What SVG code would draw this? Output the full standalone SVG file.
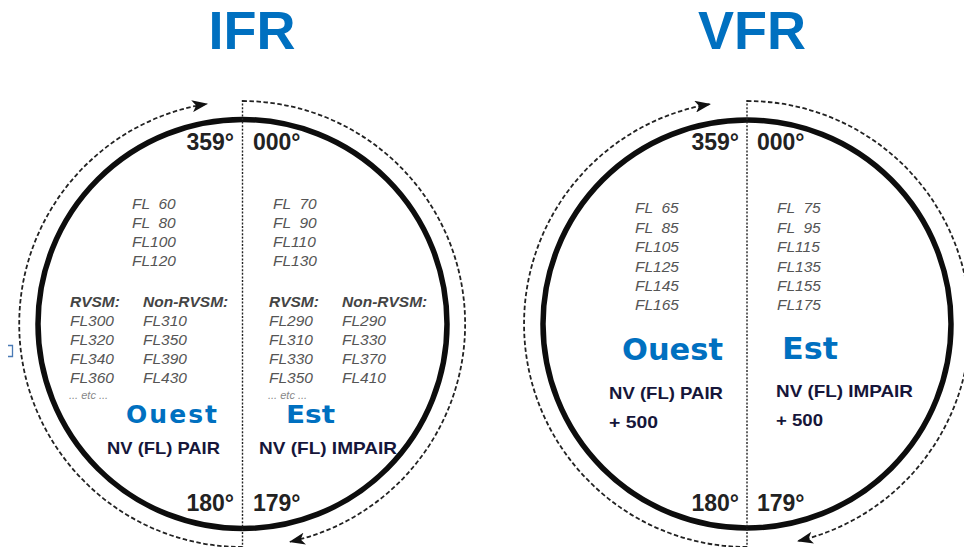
<svg xmlns="http://www.w3.org/2000/svg" width="964" height="547" viewBox="0 0 964 547">
<defs>
<marker id="arr" viewBox="0 0 16 12" refX="15" refY="6" markerWidth="16" markerHeight="12" markerUnits="userSpaceOnUse" orient="auto">
<path d="M0,0 L16,6 L0,12 L4,6 Z" fill="#111"/>
</marker>
</defs>
<style>
.ring{fill:none;stroke:#0d0d0d;stroke-width:5.5}
.orbit{fill:none;stroke:#222;stroke-width:1.8;stroke-dasharray:4.5 2.5}
.axis{fill:none;stroke:#222;stroke-width:1.4;stroke-dasharray:2 1.6}
.title{font-family:"Liberation Sans",Arial,sans-serif;font-weight:bold;font-size:54px;fill:#0070C0;text-anchor:middle}
.deg{font-family:"Liberation Sans",Arial,sans-serif;font-weight:bold;font-size:23px;fill:#222}
.fl{font-family:"Liberation Sans",Arial,sans-serif;font-style:italic;font-size:15.5px;fill:#555;white-space:pre}
.flh{font-family:"Liberation Sans",Arial,sans-serif;font-style:italic;font-weight:bold;font-size:15.5px;fill:#444}
.etc{font-family:"Liberation Sans",Arial,sans-serif;font-style:italic;font-size:11px;fill:#888}
.dir{font-family:"DejaVu Sans",Verdana,sans-serif;font-weight:bold;fill:#0070C0}
.nv{font-family:"Liberation Sans",Arial,sans-serif;font-weight:bold;font-size:17px;fill:#16163a}
</style>
<rect width="964" height="547" fill="#fff"/>

<g id="ifr">
<text class="title" x="252" y="49">IFR</text>
<circle class="ring" cx="242.5" cy="324" r="204.5"/>
<g id="ifr-degrees">
<text class="deg" x="234" y="150" text-anchor="end">359°</text>
<text class="deg" x="253" y="150">000°</text>
<text class="deg" x="234" y="511" text-anchor="end">180°</text>
<text class="deg" x="253" y="511">179°</text>
</g>
<g id="ifr-west">
<text class="fl" x="132" y="209">FL  60</text>
<text class="fl" x="132" y="228">FL  80</text>
<text class="fl" x="132" y="247">FL100</text>
<text class="fl" x="132" y="266">FL120</text>
<text class="flh" x="70" y="307">RVSM:</text>
<text class="flh" x="143" y="307">Non-RVSM:</text>
<text class="fl" x="70" y="326">FL300</text>
<text class="fl" x="70" y="345">FL320</text>
<text class="fl" x="70" y="364">FL340</text>
<text class="fl" x="70" y="383">FL360</text>
<text class="fl" x="143" y="326">FL310</text>
<text class="fl" x="143" y="345">FL350</text>
<text class="fl" x="143" y="364">FL390</text>
<text class="fl" x="143" y="383">FL430</text>
<text class="etc" x="69" y="399">... etc ...</text>
<text class="dir" x="126" y="423" font-size="25" textLength="91" lengthAdjust="spacing">Ouest</text>
<text class="nv" x="107" y="454" textLength="113" lengthAdjust="spacingAndGlyphs">NV (FL) PAIR</text>
</g>
<g id="ifr-east">
<text class="fl" x="273" y="209">FL  70</text>
<text class="fl" x="273" y="228">FL  90</text>
<text class="fl" x="273" y="247">FL110</text>
<text class="fl" x="273" y="266">FL130</text>
<text class="flh" x="269" y="307">RVSM:</text>
<text class="flh" x="342" y="307">Non-RVSM:</text>
<text class="fl" x="269" y="326">FL290</text>
<text class="fl" x="269" y="345">FL310</text>
<text class="fl" x="269" y="364">FL330</text>
<text class="fl" x="269" y="383">FL350</text>
<text class="fl" x="342" y="326">FL290</text>
<text class="fl" x="342" y="345">FL330</text>
<text class="fl" x="342" y="364">FL370</text>
<text class="fl" x="342" y="383">FL410</text>
<text class="etc" x="268" y="399">... etc ...</text>
<text class="dir" x="286" y="423" font-size="25" textLength="49" lengthAdjust="spacingAndGlyphs">Est</text>
<text class="nv" x="259" y="454" textLength="138" lengthAdjust="spacingAndGlyphs">NV (FL) IMPAIR</text>
</g>
</g>

<g id="vfr">
<text class="title" x="752" y="49">VFR</text>
<circle class="ring" cx="747" cy="324" r="204"/>
<g id="vfr-degrees">
<text class="deg" x="739" y="150" text-anchor="end">359°</text>
<text class="deg" x="757" y="150">000°</text>
<text class="deg" x="739" y="511" text-anchor="end">180°</text>
<text class="deg" x="757" y="511">179°</text>
</g>
<g id="vfr-west">
<text class="fl" x="635" y="213">FL  65</text>
<text class="fl" x="635" y="233">FL  85</text>
<text class="fl" x="635" y="252">FL105</text>
<text class="fl" x="635" y="272">FL125</text>
<text class="fl" x="635" y="291">FL145</text>
<text class="fl" x="635" y="310">FL165</text>
<text class="dir" x="622" y="360" font-size="30" textLength="101" lengthAdjust="spacingAndGlyphs">Ouest</text>
<text class="nv" x="609" y="399" textLength="114" lengthAdjust="spacingAndGlyphs">NV (FL) PAIR</text>
<text class="nv" x="609" y="428" textLength="49" lengthAdjust="spacingAndGlyphs">+ 500</text>
</g>
<g id="vfr-east">
<text class="fl" x="777" y="213">FL  75</text>
<text class="fl" x="777" y="233">FL  95</text>
<text class="fl" x="777" y="252">FL115</text>
<text class="fl" x="777" y="272">FL135</text>
<text class="fl" x="777" y="291">FL155</text>
<text class="fl" x="777" y="310">FL175</text>
<text class="dir" x="782" y="359" font-size="30" textLength="56" lengthAdjust="spacingAndGlyphs">Est</text>
<text class="nv" x="776" y="397" textLength="137" lengthAdjust="spacingAndGlyphs">NV (FL) IMPAIR</text>
<text class="nv" x="776" y="426" textLength="47" lengthAdjust="spacingAndGlyphs">+ 500</text>
</g>
</g>

<g id="connectors">
<line class="axis" x1="242.5" y1="100" x2="242.5" y2="547"/>
<path class="orbit" d="M242.5,101 A223,223 0 0 1 290,541.8" marker-end="url(#arr)"/>
<path class="orbit" d="M242.5,547 A223,223 0 0 1 207,103.8" marker-end="url(#arr)"/>
<line class="axis" x1="747" y1="100" x2="747" y2="547"/>
<path class="orbit" d="M747,101 A223,223 0 0 1 798,541.1" marker-end="url(#arr)"/>
<path class="orbit" d="M747,547 A223,223 0 0 1 710,104.1" marker-end="url(#arr)"/>
</g>

<path d="M8,345.5 H12.5 V356.5 H8" fill="none" stroke="#4a7ab5" stroke-width="1.3"/>
</svg>
